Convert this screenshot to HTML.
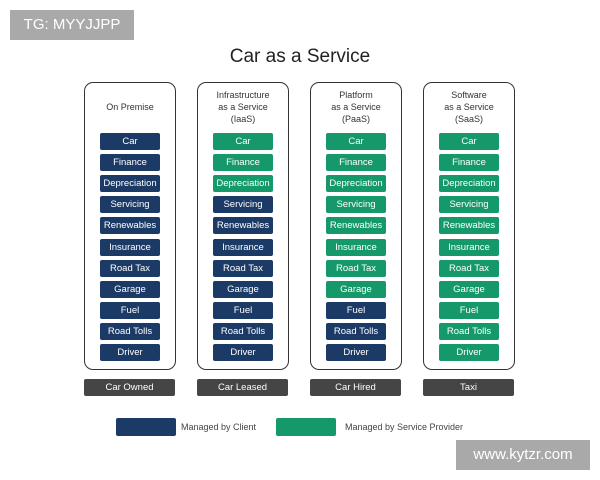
<!DOCTYPE html>
<html><head><meta charset="utf-8"><style>
body{margin:0;width:600px;height:480px;background:#fff;position:relative;overflow:hidden;font-family:"Liberation Sans",sans-serif}
.a{position:absolute}
.col{position:absolute;top:82px;width:92px;height:288px;border:1.5px solid #333;border-radius:9px;box-sizing:border-box}
.hd{position:absolute;width:92px;text-align:center;font-size:9px;color:#333;line-height:12px}
.it{position:absolute;width:60px;height:17px;border-radius:2px;color:#fff;font-size:9.5px;line-height:17px;text-align:center}
.n{background:#1c3a66}.g{background:#16996a}
.lb{position:absolute;top:379px;width:91px;height:17px;background:#454545;color:#fff;font-size:9.5px;line-height:17px;text-align:center;border-radius:2px}
</style></head><body>
<div class="a" style="left:10px;top:10px;width:124px;height:30px;background:#a9a9a9;color:#fff;font-size:15px;line-height:30px;text-align:center">TG: MYYJJPP</div>
<div class="a" style="left:0;width:600px;top:46px;text-align:center;font-size:19px;color:#222">Car as a Service</div>
<div class="col" style="left:84px"></div><div class="col" style="left:197px"></div><div class="col" style="left:310px"></div><div class="col" style="left:423px"></div>
<div class="hd" style="left:84px;top:101px">On Premise</div>
<div class="hd" style="left:197px;top:89px">Infrastructure<br>as a Service<br>(IaaS)</div>
<div class="hd" style="left:310px;top:89px">Platform<br>as a Service<br>(PaaS)</div>
<div class="hd" style="left:423px;top:89px">Software<br>as a Service<br>(SaaS)</div>
<div id="items"></div>
<div class="lb" style="left:84px">Car Owned</div><div class="lb" style="left:197px">Car Leased</div><div class="lb" style="left:310px">Car Hired</div><div class="lb" style="left:423px">Taxi</div>
<div class="a n" style="left:116px;top:418px;width:60px;height:18px;border-radius:2px"></div>
<div class="a" style="left:181px;top:422px;font-size:9px;color:#444">Managed by Client</div>
<div class="a g" style="left:276px;top:418px;width:60px;height:18px;border-radius:2px"></div>
<div class="a" style="left:345px;top:422px;font-size:9px;color:#444">Managed by Service Provider</div>
<div class="a" style="left:456px;top:440px;width:134px;height:30px;background:#a9a9a9;color:#fff;font-size:15px;line-height:30px;text-align:center">www.kytzr.com</div>
<script>
var names=["Car","Finance","Depreciation","Servicing","Renewables","Insurance","Road Tax","Garage","Fuel","Road Tolls","Driver"];
var xs=[100,213,326,439],greens=[0,3,8,11],h="";
for(var c=0;c<4;c++)for(var i=0;i<11;i++){h+='<div class="it '+(i<greens[c]?'g':'n')+'" style="left:'+xs[c]+'px;top:'+(133+i*21.1)+'px">'+names[i]+'</div>';}
document.getElementById("items").innerHTML=h;
</script>
</body></html>
